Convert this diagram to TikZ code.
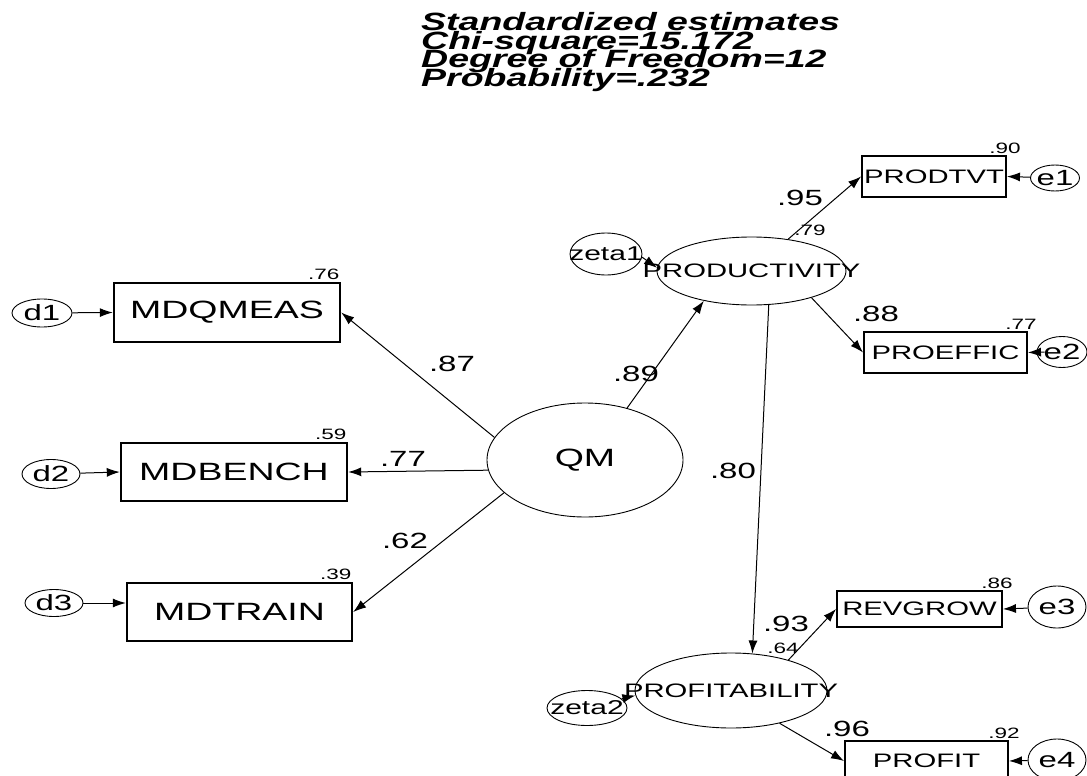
\documentclass[tikz,border=0pt]{standalone}
\usepackage{fontspec}
\setmainfont{Liberation Sans}[FakeStretch=1.5]
\usetikzlibrary{arrows.meta,shapes.geometric,positioning}

\begin{document}
\begin{tikzpicture}[
  x=1pt, y=-1pt,
  manifest/.style={rectangle, draw, line width=2.4pt, inner sep=0pt, font=\fontsize{25}{25}\selectfont},
  indicator/.style={rectangle, draw, line width=1.9pt, inner sep=0pt, font=\fontsize{19.5}{19.5}\selectfont},
  latent/.style={ellipse, draw, line width=0.9pt, inner sep=0pt, font=\fontsize{19.5}{19.5}\selectfont},
  err/.style={ellipse, draw, line width=0.9pt, inner sep=0pt, font=\fontsize{22}{22}\selectfont},
  arrow/.style={-{Latex[length=13pt, width=9pt]}, line width=1pt},
  coef/.style={inner sep=0pt, font=\fontsize{22}{22}\selectfont},
  rsq/.style={inner sep=1.5pt, font=\fontsize{15}{15}\selectfont},
  fitline/.style={anchor=base west, inner sep=0pt, font=\bfseries\itshape\fontsize{25}{25}\selectfont}
]
\useasboundingbox (0,0) rectangle (1087,776);

% fit summary
\node[fitline] (fit1) at (421,31) {Standardized estimates};
\node[fitline] (fit2) at (421,49.5) {Chi-square=15.172};
\node[fitline] (fit3) at (421,68) {Degree of Freedom=12};
\node[fitline] (fit4) at (421,86.5) {Probability=.232};

% latent variables
\node[latent, minimum width=196pt, minimum height=114pt, font=\fontsize{25}{25}\selectfont] (qm) at (585,460) {QM};
\node[latent, minimum width=189pt, minimum height=68pt] (prod) at (751.5,271) {\makebox[0pt]{PRODUCTIVITY}};
\node[latent, minimum width=192pt, minimum height=75pt] (prof) at (731,690.5) {\makebox[0pt]{PROFITABILITY}};
\node[err, minimum width=72pt, minimum height=42pt, font=\fontsize{20}{20}\selectfont] (zeta1) at (606,254) {\makebox[0pt]{zeta1}};
\node[err, minimum width=80pt, minimum height=35pt, font=\fontsize{20}{20}\selectfont] (zeta2) at (587,708) {\makebox[0pt]{zeta2}};

% QM indicators
\node[manifest, minimum width=226pt, minimum height=59pt] (mdq) at (227,312.5) {MDQMEAS};
\node[manifest, minimum width=226pt, minimum height=58pt] (mdb) at (234,472) {MDBENCH};
\node[manifest, minimum width=225pt, minimum height=58pt] (mdt) at (239.5,612) {MDTRAIN};
\node[err, minimum width=60pt, minimum height=28pt] (d1) at (42,313) {\makebox[0pt]{d1}};
\node[err, minimum width=58pt, minimum height=29pt] (d2) at (51,474) {\makebox[0pt]{d2}};
\node[err, minimum width=58pt, minimum height=27pt] (d3) at (54,603) {\makebox[0pt]{d3}};

% outcome indicators
\node[indicator, minimum width=144pt, minimum height=41pt] (pt) at (934,176.5) {\makebox[0pt]{PRODTVT}};
\node[indicator, minimum width=163pt, minimum height=41pt] (pe) at (945.5,352.5) {\makebox[0pt]{PROEFFIC}};
\node[indicator, minimum width=165pt, minimum height=36pt] (rg) at (919.5,609) {\makebox[0pt]{REVGROW}};
\node[indicator, minimum width=163pt, minimum height=40pt] (pf) at (926.5,761) {\makebox[0pt]{PROFIT}};
\node[err, minimum width=49pt, minimum height=26pt] (e1) at (1055,178) {\makebox[0pt]{e1}};
\node[err, minimum width=50pt, minimum height=31pt] (e2) at (1062,352) {\makebox[0pt]{e2}};
\node[err, minimum width=58pt, minimum height=42pt] (e3) at (1057,607) {\makebox[0pt]{e3}};
\node[err, minimum width=58pt, minimum height=42pt] (e4) at (1057,760) {\makebox[0pt]{e4}};

% squared multiple correlations
\node[rsq, anchor=south east] (r76) at (mdq.north east) {.76};
\node[rsq, anchor=south east] (r59) at (mdb.north east) {.59};
\node[rsq, anchor=south east] (r39) at (mdt.north east) {.39};
\node[rsq, anchor=south] (r90) at ([xshift=-2pt]pt.north east) {.90};
\node[rsq, anchor=south] (r77) at ([xshift=-7pt]pe.north east) {.77};
\node[rsq, anchor=south] (r86) at ([xshift=-6pt]rg.north east) {.86};
\node[rsq, anchor=south] (r92) at ([xshift=-5pt]pf.north east) {.92};
\node[rsq] (r79) at (810,230) {.79};
\node[rsq] (r64) at (783,648) {.64};

% paths
\draw[arrow] (qm.166) -- (mdq.east);
\draw[arrow] (qm.186) -- (mdb.east);
\draw[arrow] (qm.202) -- (mdt.east);
\draw[arrow] (qm.51) -- (prod.212);
\draw[arrow] (prod.41) -- (pt.west);
\draw[arrow] (prod.336) -- (pe.west);
\draw[arrow] (prod.297) -- (prof.60);
\draw[arrow] (prof.28) -- (rg.west);
\draw[arrow] (prof.326) -- (pf.west);
\draw[arrow] (zeta1.-5) -- (prod.178);
\draw[arrow] (zeta2.15) -- (prof.183);
\draw[arrow] (d1) -- (mdq.west);
\draw[arrow] (d2) -- (mdb.west);
\draw[arrow] (d3) -- (d3 -| mdt.west);
\draw[arrow] (e1) -- (pt.east);
\draw[arrow] ([xshift=8pt]e2.west) -- (pe.east);
\draw[arrow] (e3) -- (rg.east);
\draw[arrow] (e4) -- (pf.east);

% path coefficients
\node[coef] (c87) at (452,364) {.87};
\node[coef] (c77) at (403,459) {.77};
\node[coef] (c62) at (405,541) {.62};
\node[coef] (c89) at (636,374) {.89};
\node[coef] (c95) at (800,198) {.95};
\node[coef] (c88) at (876,314) {.88};
\node[coef] (c80) at (733,471) {.80};
\node[coef] (c93) at (786,624) {.93};
\node[coef] (c96) at (847,729) {.96};
\end{tikzpicture}
\end{document}
